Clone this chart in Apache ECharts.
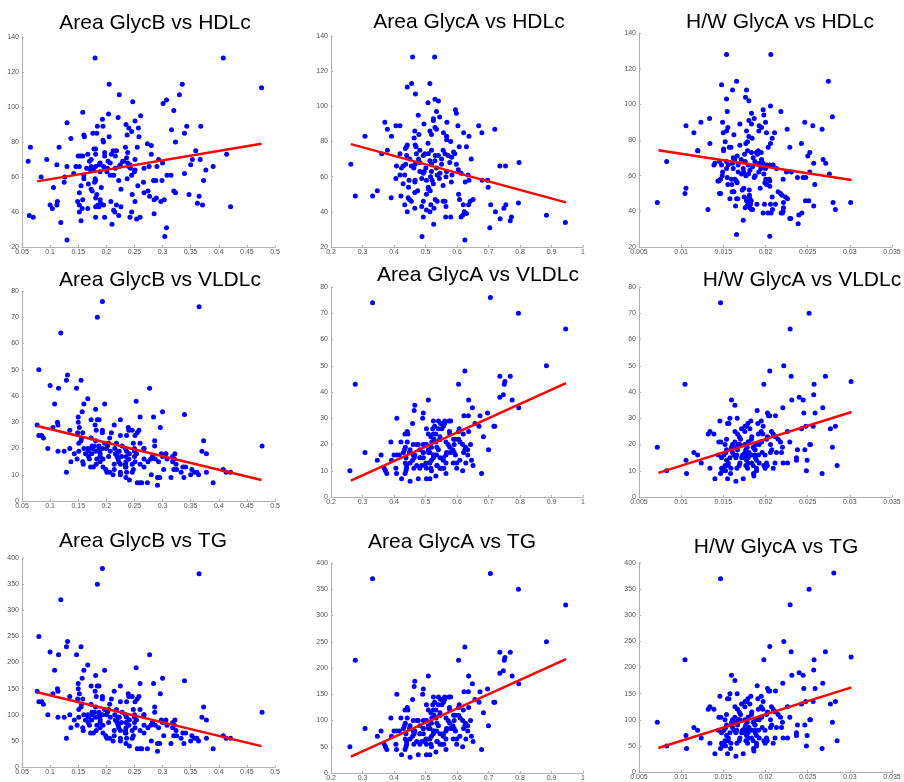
<!DOCTYPE html>
<html><head><meta charset="utf-8">
<script src="https://cdn.jsdelivr.net/npm/echarts@6/dist/echarts.min.js"></script>
<style>html,body{margin:0;padding:0;background:#fff}#c{width:904px;height:782px}</style>
</head><body><div id="c"></div>
<script>
// ---------- Row 1: HDLc (mg/dL) vs each GlycA/GlycB measure, [x, y] pairs ----------
const glycB_HDLc = [
[0.180,128],[0.408,128],[0.476,111],[0.205,113],[0.335,113],[0.223,107],[0.330,107],[0.247,103],[0.307,104],[0.301,102],
[0.158,97],[0.204,96],[0.261,95],[0.221,94],[0.130,91],[0.193,93],[0.320,98],[0.251,92],[0.235,90],[0.184,89],
[0.194,89],[0.257,88],[0.240,88],[0.316,87],[0.368,89],[0.343,89],[0.237,84],[0.245,86],[0.339,85],[0.137,82],
[0.160,84],[0.161,83],[0.176,85],[0.183,85],[0.205,83],[0.258,83],[0.323,80],[0.194,81],[0.195,80],[0.273,79],
[0.280,78],[0.065,77],[0.116,77],[0.255,77],[0.234,77],[0.178,76],[0.181,76],[0.359,75],[0.197,74],[0.212,75],
[0.218,75],[0.238,74],[0.414,73],[0.167,73],[0.181,73],[0.209,73],[0.216,72],[0.154,72],[0.150,72],[0.158,72],
[0.197,72],[0.280,73],[0.094,70],[0.173,70],[0.236,71],[0.251,70],[0.293,70],[0.353,70],[0.061,69],[0.170,69],
[0.203,69],[0.229,69],[0.300,68],[0.112,67],[0.187,67],[0.207,68],[0.242,67],[0.350,67],[0.367,70],[0.130,66],
[0.146,66],[0.152,66],[0.173,66],[0.181,66],[0.195,66],[0.223,66],[0.240,66],[0.290,66],[0.390,66],[0.084,60],
[0.126,60],[0.142,62],[0.160,61],[0.172,64],[0.189,63],[0.201,63],[0.213,61],[0.207,61],[0.237,59],[0.245,61],
[0.250,63],[0.251,64],[0.267,65],[0.276,66],[0.308,61],[0.315,61],[0.339,62],[0.377,64],[0.160,59],[0.180,59],
[0.181,58],[0.179,57],[0.125,57],[0.222,58],[0.256,55],[0.266,57],[0.284,58],[0.288,58],[0.299,58],[0.373,58],
[0.106,54],[0.168,56],[0.155,55],[0.191,54],[0.173,53],[0.175,52],[0.226,53],[0.320,52],[0.323,51],[0.267,51],
[0.274,52],[0.152,51],[0.246,50],[0.277,49],[0.183,50],[0.181,48],[0.189,47],[0.158,47],[0.347,50],[0.365,49],
[0.285,47],[0.289,48],[0.297,46],[0.303,47],[0.251,46],[0.208,46],[0.149,46],[0.113,46],[0.190,45],[0.112,44],
[0.100,44],[0.185,44],[0.152,44],[0.195,44],[0.362,45],[0.371,44],[0.421,43],[0.104,42],[0.157,42],[0.167,42],
[0.181,43],[0.187,43],[0.218,44],[0.226,43],[0.213,41],[0.215,40],[0.152,40],[0.245,40],[0.285,39],[0.063,38],
[0.222,38],[0.070,37],[0.181,37],[0.197,37],[0.242,37],[0.260,37],[0.254,36],[0.119,34],[0.155,35],[0.210,33],
[0.307,31],[0.304,26],[0.130,24],[0.165,65],[0.177,64],[0.198,65],[0.202,65],[0.216,65],[0.225,67],[0.231,69],
[0.238,68],[0.243,65],[0.189,68]
];
const glycA_HDLc = [
[0.459,128],[0.529,128],[0.456,113],[0.442,111],[0.514,113],[0.468,107],[0.530,104],[0.541,103],[0.508,102],[0.535,97],
[0.595,98],[0.598,96],[0.477,95],[0.545,94],[0.525,93],[0.525,92],[0.371,91],[0.495,90],[0.568,91],[0.406,89],
[0.419,89],[0.603,89],[0.669,89],[0.530,88],[0.535,87],[0.720,87],[0.379,87],[0.466,86],[0.514,86],[0.557,85],
[0.679,85],[0.621,85],[0.479,84],[0.519,84],[0.308,83],[0.392,83],[0.638,83],[0.567,83],[0.464,82],[0.508,79],
[0.567,81],[0.580,80],[0.607,77],[0.442,78],[0.440,77],[0.470,77],[0.630,77],[0.379,75],[0.436,76],[0.467,78],
[0.482,75],[0.519,75],[0.556,75],[0.589,74],[0.361,73],[0.419,73],[0.498,73],[0.509,73],[0.531,72],[0.541,72],
[0.562,73],[0.572,72],[0.593,73],[0.440,72],[0.493,72],[0.583,71],[0.645,70],[0.450,70],[0.478,70],[0.514,69],
[0.263,67],[0.408,66],[0.429,66],[0.437,67],[0.455,66],[0.467,67],[0.482,68],[0.519,67],[0.551,67],[0.577,68],
[0.598,67],[0.736,66],[0.754,66],[0.797,68],[0.424,65],[0.463,65],[0.501,65],[0.535,65],[0.604,64],[0.496,63],
[0.519,63],[0.546,62],[0.567,63],[0.419,61],[0.434,61],[0.493,62],[0.516,60],[0.537,61],[0.584,61],[0.613,62],
[0.635,61],[0.406,59],[0.448,58],[0.467,58],[0.488,59],[0.582,57],[0.626,57],[0.638,58],[0.680,58],[0.697,58],
[0.429,56],[0.466,57],[0.525,56],[0.556,55],[0.699,54],[0.509,54],[0.446,54],[0.347,52],[0.515,52],[0.466,51],
[0.475,52],[0.509,53],[0.605,50],[0.277,49],[0.332,49],[0.422,49],[0.503,50],[0.445,48],[0.391,48],[0.449,47],
[0.608,47],[0.651,47],[0.455,46],[0.493,46],[0.531,47],[0.537,46],[0.556,46],[0.562,46],[0.642,46],[0.795,45],
[0.434,44],[0.565,43],[0.620,44],[0.637,44],[0.707,44],[0.755,44],[0.466,42],[0.488,43],[0.517,44],[0.527,42],
[0.749,42],[0.722,40],[0.442,40],[0.503,41],[0.514,40],[0.623,40],[0.618,38],[0.884,38],[0.630,39],[0.493,37],
[0.564,37],[0.580,37],[0.613,37],[0.737,36],[0.773,37],[0.769,35],[0.944,34],[0.526,33],[0.704,31],[0.489,26],
[0.625,24],[0.482,63],[0.503,58],[0.521,58],[0.544,59],[0.565,60],[0.530,69],[0.551,70],[0.471,73]
];
const hwGlycA_HDLc = [
[0.01538,128],[0.02063,128],[0.01479,111],[0.01657,113],[0.02746,113],[0.01609,108],[0.01775,108],[0.01763,104],[0.01538,103],[0.01803,102],
[0.02059,99],[0.01972,97],[0.02182,96],[0.01546,96],[0.0198,94],[0.01834,95],[0.01337,92],[0.01866,92],[0.02793,93],[0.01234,90],
[0.01491,90],[0.01803,91],[0.02466,90],[0.0200,90],[0.01925,88],[0.01696,89],[0.01834,89],[0.01057,88],[0.02561,88],[0.01953,87],
[0.01554,87],[0.02671,86],[0.02257,86],[0.01538,85],[0.01775,85],[0.01921,85],[0.01151,84],[0.01499,84],[0.02012,84],[0.02107,84],
[0.01625,83],[0.01803,82],[0.01842,81],[0.02079,81],[0.01341,78],[0.01522,79],[0.01767,78],[0.01787,79],[0.02059,78],[0.01696,77],
[0.02426,78],[0.0157,76],[0.0159,76],[0.02032,76],[0.02288,76],[0.01503,75],[0.01503,74],[0.01913,74],[0.01195,74],[0.02501,71],
[0.02525,73],[0.02683,69],[0.02714,67],[0.00828,68],[0.0140,67],[0.01388,66],[0.01455,68],[0.01538,68],[0.01617,70],[0.01633,69],
[0.01664,71],[0.01751,72],[0.01787,74],[0.01834,73],[0.01893,73],[0.01905,72],[0.01949,73],[0.01712,69],[0.01759,68],[0.01854,70],
[0.01874,68],[0.01953,69],[0.01972,67],[0.01479,66],[0.01558,66],[0.01609,67],[0.01676,66],[0.01795,66],[0.01846,65],[0.01925,67],
[0.02012,66],[0.02051,66],[0.02091,66],[0.02572,67],[0.01199,74],[0.01538,64],[0.01617,64],[0.01736,64],[0.01815,63],[0.01945,64],
[0.0200,64],[0.0213,64],[0.01491,62],[0.01743,62],[0.01799,61],[0.01921,62],[0.02249,62],[0.01487,60],[0.01676,62],[0.01716,61],
[0.01767,60],[0.0198,61],[0.02308,62],[0.02525,62],[0.02758,61],[0.01546,59],[0.01866,59],[0.01878,60],[0.01467,58],[0.01597,58],
[0.02004,58],[0.02043,58],[0.02379,59],[0.02446,59],[0.02478,59],[0.02209,58],[0.01447,57],[0.01653,57],[0.02051,57],[0.01637,58],
[0.01554,55],[0.01664,56],[0.01992,56],[0.02012,55],[0.01601,55],[0.02584,55],[0.01436,57],[0.01724,52],[0.01937,53],[0.02051,54],
[0.01743,53],[0.01605,51],[0.01807,52],[0.01057,53],[0.0215,51],[0.02178,50],[0.01045,50],[0.01455,50],[0.01467,50],[0.01625,51],
[0.01747,48],[0.0181,49],[0.02197,49],[0.01657,47],[0.02079,48],[0.02237,48],[0.01578,47],[0.01672,47],[0.01775,47],[0.01815,47],
[0.02261,47],[0.01775,46],[0.0183,46],[0.01815,45],[0.02474,46],[0.02513,46],[0.00717,45],[0.01795,44],[0.01822,44],[0.02801,45],
[0.0301,45],[0.02213,45],[0.01779,43],[0.01898,44],[0.01988,44],[0.02059,44],[0.02118,44],[0.02572,43],[0.01759,42],[0.01645,43],
[0.01815,42],[0.01834,41],[0.02213,42],[0.01317,41],[0.02829,41],[0.01846,41],[0.02083,41],[0.02209,40],[0.02431,39],[0.01972,39],
[0.02028,39],[0.02067,39],[0.02201,39],[0.02186,39],[0.02395,38],[0.0230,36],[0.02288,36],[0.01736,35],[0.02387,33],[0.01657,27],
[0.02051,26]
];

// ---------- Rows 2 & 3: x values shared by the VLDLc and TG panels ----------
const glycB_x = [
0.193,0.184,0.365,0.119,0.080,0.131,0.129,0.155,0.100,0.115,
0.147,0.277,0.167,0.253,0.108,0.160,0.197,0.181,0.157,0.339,
0.300,0.150,0.184,0.187,0.225,0.260,0.284,0.173,0.150,0.113,
0.152,0.077,0.180,0.214,0.114,0.105,0.135,0.182,0.193,0.239,
0.246,0.258,0.240,0.296,0.149,0.158,0.255,0.209,0.193,0.080,
0.085,0.088,0.156,0.173,0.206,0.225,0.236,0.251,0.155,0.151,
0.197,0.218,0.248,0.260,0.286,0.373,0.228,0.477,0.202,0.187,
0.187,0.096,0.135,0.160,0.167,0.175,0.179,0.193,0.200,0.215,
0.234,0.250,0.267,0.286,0.151,0.168,0.181,0.207,0.223,0.236,
0.370,0.163,0.174,0.189,0.216,0.219,0.241,0.250,0.298,0.306,
0.322,0.114,0.125,0.143,0.378,0.189,0.204,0.219,0.235,0.250,
0.282,0.300,0.318,0.170,0.183,0.148,0.221,0.267,0.279,0.287,
0.308,0.321,0.137,0.158,0.189,0.222,0.235,0.251,0.293,0.318,
0.159,0.225,0.234,0.246,0.274,0.324,0.172,0.177,0.182,0.194,
0.235,0.267,0.336,0.341,0.214,0.248,0.302,0.320,0.325,0.352,
0.408,0.199,0.333,0.357,0.201,0.236,0.206,0.225,0.246,0.361,
0.378,0.413,0.421,0.129,0.212,0.225,0.280,0.315,0.235,0.291,
0.295,0.338,0.350,0.364,0.241,0.255,0.260,0.273,0.390,0.263,
0.291,0.1745,0.188,0.2206,0.227,0.214,0.240,0.194,0.2668,0.2536,
0.181,0.204,0.168,0.2338,0.260
];
const glycB_VLDLc = [
76,70,74,64,50,48,46,46,44,43,
43,43,39,38,37,37,37,35,34,33,
34,32,31,31,31,32,32,31,30,30,
28,29,29,29,29,28,27,27,27,28,
27,27,27,28,26,26,26,26,26,25,
25,24,24,24,24,25,25,25,23,22,
22,22,22,22,23,23,21,21,21,21,
20,20,20,20,20,20,21,20,20,20,
20,20,20,21,19,19,19,19,19,19,
19,18,18,18,18,18,18,19,18,18,
18,19,19,18,18,17,17,17,17,17,
17,17,17,16,16,16,16,16,16,16,
16,16,15,15,15,15,15,15,15,15,
14,14,14,14,15,14,13,13,14,13,
13,13,13,13,12,12,12,12,12,12,
12,12,11,11,11,11,11,11,11,11,
11,11,11,11,10,10,10,9,9,9,
9,9,10,10,8,7,7,7,7,7,
6,21,19,19,17,14,16,16,20,18,
23,22,17,13,14
];
const glycB_TG = [
380,350,370,320,250,240,230,230,220,215,
215,215,195,190,185,185,185,175,170,165,
170,160,155,155,155,160,160,155,150,150,
140,145,145,145,145,140,135,135,135,140,
135,135,135,140,130,130,130,130,130,125,
125,120,120,120,120,125,125,125,115,110,
110,110,110,110,115,115,105,105,105,105,
100,100,100,100,100,100,105,100,100,100,
100,100,100,105,95,95,95,95,95,95,
95,90,90,90,90,90,90,95,90,90,
90,95,95,90,90,85,85,85,85,85,
85,85,85,80,80,80,80,80,80,80,
80,80,75,75,75,75,75,75,75,75,
70,70,70,70,75,70,65,65,70,65,
65,65,65,65,60,60,60,60,60,60,
60,60,55,55,55,55,55,55,55,55,
55,55,55,55,50,50,50,45,45,45,
45,45,50,50,40,35,35,35,35,35,
30,105,95,95,85,70,80,80,100,90,
115,110,85,65,70
];

const glycA_x = [
0.332,0.706,0.795,0.945,0.277,0.884,0.625,0.736,0.769,0.605,
0.752,0.750,0.747,0.736,0.775,0.637,0.509,0.466,0.649,0.464,
0.796,0.493,0.697,0.673,0.622,0.636,0.409,0.491,0.561,0.525,
0.541,0.575,0.580,0.459,0.555,0.561,0.657,0.529,0.548,0.670,
0.717,0.720,0.503,0.552,0.607,0.523,0.442,0.576,0.605,0.637,
0.435,0.533,0.509,0.444,0.546,0.577,0.620,0.684,0.517,0.527,
0.589,0.595,0.605,0.546,0.390,0.422,0.442,0.493,0.503,0.461,
0.477,0.533,0.565,0.591,0.618,0.643,0.627,0.436,0.519,0.482,
0.541,0.587,0.509,0.634,0.700,0.433,0.577,0.308,0.449,0.493,
0.510,0.578,0.591,0.621,0.526,0.359,0.400,0.417,0.466,0.535,
0.565,0.595,0.634,0.438,0.464,0.493,0.525,0.546,0.482,0.347,
0.392,0.459,0.519,0.556,0.609,0.646,0.514,0.565,0.451,0.436,
0.628,0.588,0.501,0.472,0.498,0.537,0.651,0.369,0.406,0.440,
0.463,0.482,0.517,0.546,0.558,0.599,0.503,0.373,0.260,0.438,
0.618,0.519,0.408,0.377,0.435,0.565,0.678,0.533,0.424,0.477,
0.503,0.514,0.451,0.525,0.493,0.536,0.557,0.509,0.483,0.461,
0.451,0.572,0.588,0.546,0.525,0.557,0.541,0.520,0.498,0.472,
0.430,0.409,0.440,0.536,0.599,0.625,0.610,0.514,0.567,0.488,
0.551
];
const glycA_VLDLc = [
74,76,70,64,43,50,48,46,46,43,
44,43,39,38,37,37,37,35,34,33,
34,32,32,31,31,31,30,30,29,29,
29,29,29,28,28,28,28,27,28,27,
27,27,26,26,26,26,25,25,25,25,
24,24,24,24,23,24,24,23,23,22,
22,22,22,22,21,21,21,20,20,20,
20,21,21,20,20,20,19,19,19,18,
18,18,18,18,18,18,19,17,17,17,
17,17,17,17,16,16,16,16,16,16,
16,16,16,15,15,15,15,15,15,14,
14,14,14,14,14,14,13,13,13,13,
13,13,13,12,12,12,12,11,11,11,
11,11,11,11,11,11,11,10,10,10,
10,10,9,9,9,9,9,8,7,7,
7,7,6,16,17,19,15,13,15,16,
18,20,17,22,24,27,26,21,20,20,
17,16,12,12,13,18,21,17,17,12,
11
];
const glycA_TG = [
370,380,350,320,215,250,240,230,230,215,
220,215,195,190,185,185,185,175,170,165,
170,160,160,155,155,155,150,150,145,145,
145,145,145,140,140,140,140,135,140,135,
135,135,130,130,130,130,125,125,125,125,
120,120,120,120,115,120,120,115,115,110,
110,110,110,110,105,105,105,100,100,100,
100,105,105,100,100,100,95,95,95,90,
90,90,90,90,90,90,95,85,85,85,
85,85,85,85,80,80,80,80,80,80,
80,80,80,75,75,75,75,75,75,70,
70,70,70,70,70,70,65,65,65,65,
65,65,65,60,60,60,60,55,55,55,
55,55,55,55,55,55,55,50,50,50,
50,50,45,45,45,45,45,40,35,35,
35,35,30,80,85,95,75,65,75,80,
90,100,85,110,120,135,130,105,100,100,
85,80,60,60,65,90,105,85,85,60,
55
];

const hw_x = [
0.01467,0.02517,0.02292,0.02217,0.02051,0.02304,0.0271,0.01045,0.0198,0.02576,
0.03015,0.02572,0.02399,0.02446,0.02312,0.01597,0.01637,0.01901,0.02205,0.02679,
0.02454,0.02588,0.02024,0.02051,0.02118,0.02036,0.01578,0.01664,0.01459,0.01826,
0.01949,0.01791,0.01909,0.0155,0.01566,0.01775,0.02478,0.02565,0.02829,0.01972,
0.01716,0.01815,0.02426,0.0277,0.01341,0.01755,0.0226,0.01949,0.02071,0.01321,
0.01388,0.01668,0.01968,0.02091,0.01838,0.02118,0.01688,0.02024,0.0215,0.01834,
0.01538,0.01704,0.02012,0.02178,0.02288,0.01447,0.01471,0.01637,0.01795,0.01941,
0.00717,0.01609,0.01696,0.01755,0.01886,0.01925,0.02059,0.02525,0.02533,0.01597,
0.01657,0.01783,0.02201,0.02793,0.01854,0.01538,0.01668,0.01767,0.01874,0.02379,
0.02466,0.01151,0.0153,0.01609,0.01803,0.01961,0.02059,0.0213,0.0219,0.01195,
0.01507,0.01625,0.01728,0.01775,0.01834,0.01917,0.01479,0.01578,0.01649,0.01743,
0.01795,0.01878,0.02367,0.01057,0.01775,0.01538,0.01893,0.02367,0.02493,0.01238,
0.01696,0.01795,0.01925,0.02012,0.02209,0.02261,0.02849,0.01558,0.01688,0.01767,
0.01854,0.0198,0.0202,0.01341,0.01479,0.01507,0.0159,0.01661,0.01787,0.01893,
0.01996,0.02091,0.00828,0.01487,0.01526,0.01893,0.02485,0.01064,0.01467,0.01586,
0.01858,0.02671,0.01862,0.0140,0.0155,0.01736,0.01649,0.01678,0.01757,0.01796,
0.01718,0.01836,0.01876,0.01599,0.01559,0.01955,0.01994,0.02074,0.01638,0.01757,
0.01915,0.0152,0.01777,0.01659,0.01876,0.0144,0.02113,0.02015,0.0152
];
const hw_VLDLc = [
74,70,64,50,48,46,46,43,43,43,
44,39,38,37,37,37,35,33,34,34,
32,32,32,31,31,31,30,30,29,29,
29,28,28,28,28,27,27,27,27,27,
26,26,26,26,25,25,25,25,25,24,
24,24,24,24,23,23,23,23,22,22,
22,22,22,21,21,21,21,21,21,21,
19,20,20,20,20,20,20,20,20,19,
19,19,19,19,19,18,18,18,18,18,
18,17,17,17,17,17,17,17,17,16,
16,16,16,16,16,16,15,15,15,15,
15,15,15,14,14,14,14,14,14,13,
13,13,13,13,13,13,12,12,12,12,
12,12,12,11,11,11,11,11,11,11,
11,11,10,10,10,10,10,9,9,9,
9,9,8,7,7,7,6,20,17,21,
15,13,18,18,13,21,16,18,25,27,
24,20,12,16,16,16,13,12,12
];
const hw_TG = [
370,350,320,250,240,230,230,215,215,215,
220,195,190,185,185,185,175,165,170,170,
160,160,160,155,155,155,150,150,145,145,
145,140,140,140,140,135,135,135,135,135,
130,130,130,130,125,125,125,125,125,120,
120,120,120,120,115,115,115,115,110,110,
110,110,110,105,105,105,105,105,105,105,
95,100,100,100,100,100,100,100,100,95,
95,95,95,95,95,90,90,90,90,90,
90,85,85,85,85,85,85,85,85,80,
80,80,80,80,80,80,75,75,75,75,
75,75,75,70,70,70,70,70,70,65,
65,65,65,65,65,65,60,60,60,60,
60,60,60,55,55,55,55,55,55,55,
55,55,50,50,50,50,50,45,45,45,
45,45,40,35,35,35,30,100,85,105,
75,65,90,90,65,105,80,90,125,135,
120,100,60,80,80,80,65,60,60
];
// point present only in the H/W GlycA vs TG panel
const hw_TG_extra_x = [0.0281];
const hw_TG_extra_y = [381];

// ---------- Fitted regression line end points ----------
const fit_B_HDLc  = [[0.077,57.5],[0.476,79]];
const fit_A_HDLc  = [[0.263,78.5],[0.946,45.4]];
const fit_W_HDLc  = [[0.0073,74.2],[0.0302,57.6]];
const fit_B_VLDLc = [[0.077,28.6],[0.476,8]];
const fit_A_VLDLc = [[0.263,6.2],[0.946,43.4]];
const fit_W_VLDLc = [[0.0073,9.2],[0.0302,32.4]];
const fit_B_TG    = [[0.077,143],[0.476,40]];
const fit_A_TG    = [[0.263,31],[0.946,217]];
const fit_W_TG    = [[0.0073,46],[0.0302,162]];

// ---------- Titles and axis ranges ----------
const titles = ['Area GlycB vs HDLc','Area GlycA vs HDLc','H/W GlycA vs HDLc',
                'Area GlycB vs VLDLc','Area GlycA vs VLDLc','H/W GlycA vs VLDLc',
                'Area GlycB vs TG','Area GlycA vs TG','H/W GlycA vs TG'];
const xRanges = [[0.05,0.5,0.05],[0.2,1,0.1],[0.005,0.035,0.005]];
const yRanges = [[20,140,20],[0,80,10],[0,400,50]];

function zip(xs, ys){ return xs.map((x,i)=>[x, ys[i]]); }

const scatterData = [
  glycB_HDLc, glycA_HDLc, hwGlycA_HDLc,
  zip(glycB_x, glycB_VLDLc), zip(glycA_x, glycA_VLDLc), zip(hw_x, hw_VLDLc),
  zip(glycB_x, glycB_TG), zip(glycA_x, glycA_TG), zip(hw_x.concat(hw_TG_extra_x), hw_TG.concat(hw_TG_extra_y))
];
const fits = [fit_B_HDLc, fit_A_HDLc, fit_W_HDLc, fit_B_VLDLc, fit_A_VLDLc, fit_W_VLDLc, fit_B_TG, fit_A_TG, fit_W_TG];

// layout (pixels)
const grids = [
  {left:22, top:37, width:253, height:210},
  {left:331,top:36, width:252, height:211},
  {left:639,top:33, width:253, height:214},
  {left:22, top:291,width:253, height:210},
  {left:331,top:287,width:252, height:210},
  {left:639,top:287,width:253, height:210},
  {left:22, top:558,width:253, height:209},
  {left:331,top:563,width:252, height:210},
  {left:639,top:563,width:253, height:209}
];
const titlePos = [[155,23],[469,22],[780,22],[160,280],[478,275],[802,280],[143,541],[452,542],[776,547]];

const axisCommon = {
  axisLine:{show:true, onZero:false, lineStyle:{color:'#b0b0b0', width:1}},
  axisTick:{show:true, inside:true, length:2, lineStyle:{color:'#b0b0b0'}},
  splitLine:{show:false},
  axisLabel:{fontSize:7, color:'#555', fontFamily:'Liberation Sans, Arial, sans-serif'}
};

const option = {
  animation:false,
  backgroundColor:'#fff',
  grid: grids.map(g=>Object.assign({containLabel:false}, g)),
  xAxis: grids.map((g,i)=>{
    const r = xRanges[i%3];
    return Object.assign({}, JSON.parse(JSON.stringify(axisCommon)), {
      type:'value', gridIndex:i, min:r[0], max:r[1], interval:r[2],
      axisLabel:Object.assign({}, axisCommon.axisLabel, {margin:2})
    });
  }),
  yAxis: grids.map((g,i)=>{
    const r = yRanges[Math.floor(i/3)];
    return Object.assign({}, JSON.parse(JSON.stringify(axisCommon)), {
      type:'value', gridIndex:i, min:r[0], max:r[1], interval:r[2],
      axisLabel:Object.assign({}, axisCommon.axisLabel, {margin:3})
    });
  }),
  series: [].concat(
    scatterData.map((d,i)=>({type:'scatter', xAxisIndex:i, yAxisIndex:i, data:d, symbolSize:5,
      itemStyle:{color:'#0000ff', opacity:1}, silent:true, z:2})),
    fits.map((d,i)=>({type:'line', xAxisIndex:i, yAxisIndex:i, data:d, symbol:'none',
      lineStyle:{color:'#ff0000', width:2.5}, silent:true, z:3}))
  ),
  graphic: titles.map((t,i)=>({
    type:'text', x:titlePos[i][0], y:titlePos[i][1], z:10,
    style:{text:t, fontSize:21, fontFamily:'Liberation Sans, Arial, sans-serif', fill:'#000',
      textAlign:'center', textVerticalAlign:'middle'}
  }))
};

const chart = echarts.init(document.getElementById('c'), null, {renderer:'canvas'});
chart.setOption(option);
</script>
</body></html>
